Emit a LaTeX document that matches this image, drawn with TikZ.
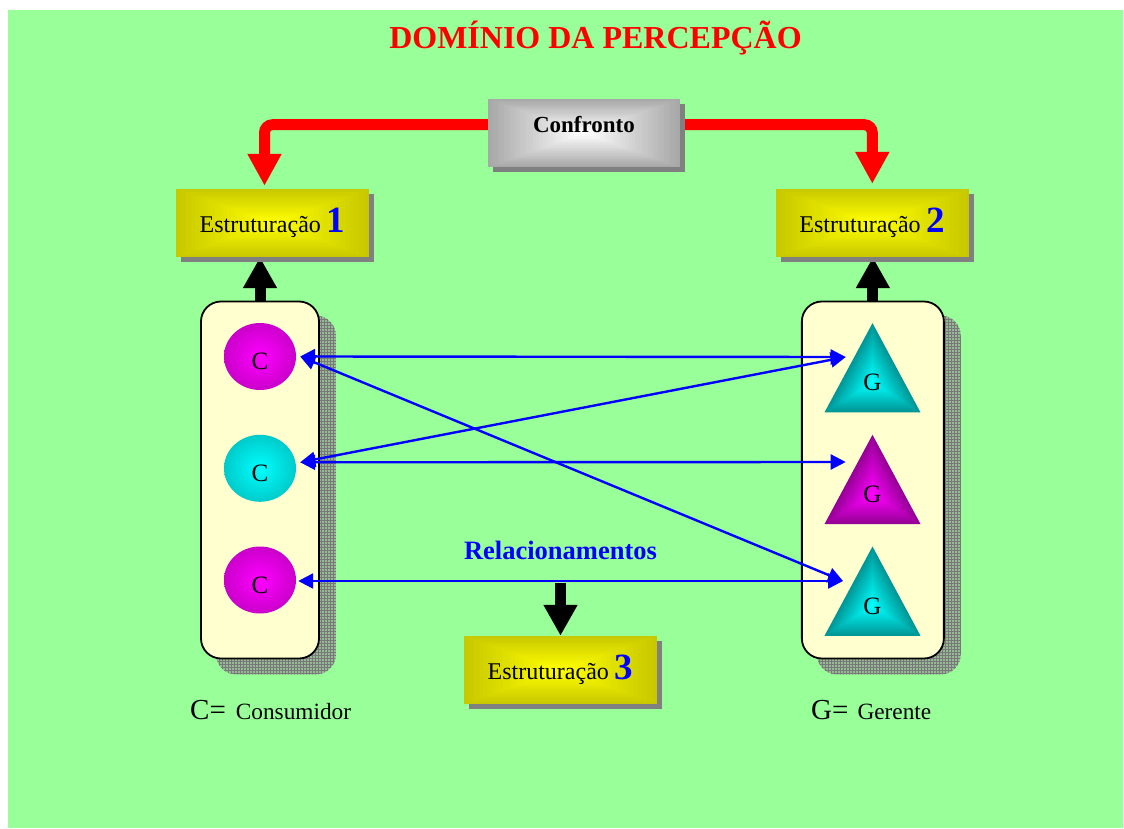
\documentclass[tikz,border=0pt]{standalone}
\usepackage{fontspec}
\setmainfont{Liberation Serif}
\usetikzlibrary{arrows.meta,shapes.geometric,patterns,calc}

% palette
\definecolor{bggreen}{RGB}{153,255,153}
\definecolor{panelfill}{RGB}{255,255,208}
\definecolor{boxshadow}{RGB}{128,128,128}
\definecolor{hatchbase}{RGB}{150,185,150}
\definecolor{hatchline}{RGB}{120,120,120}
\definecolor{magbright}{RGB}{255,0,255}
\definecolor{magdark}{RGB}{150,0,150}
\definecolor{cyanbright}{RGB}{0,255,255}
\definecolor{cyandark}{RGB}{0,150,150}
\definecolor{yelbright}{RGB}{255,255,0}
\definecolor{yeldark}{RGB}{200,200,0}
\definecolor{silverbright}{RGB}{255,255,255}
\definecolor{silverdark}{RGB}{168,168,168}
\definecolor{arrowred}{RGB}{255,0,0}
\definecolor{linkblue}{RGB}{0,0,255}

\pgfdeclareradialshading{magglow}{\pgfpoint{0bp}{0bp}}%
  {color(0bp)=(magbright); color(50bp)=(magdark); color(75bp)=(magdark)}
\pgfdeclareradialshading{cyanglow}{\pgfpoint{0bp}{0bp}}%
  {color(0bp)=(cyanbright); color(50bp)=(cyandark); color(75bp)=(cyandark)}

\pgfdeclarelayer{back}
\pgfdeclarelayer{shadows}
\pgfsetlayers{back,shadows,main}

% rectangular glow: nested rectangles from the edge colour to the centre colour
\newcommand\rectglow[2]{%
  \foreach \k in {0,...,29}{%
    \pgfmathsetmacro\glowt{\k/30}%
    \pgfmathtruncatemacro\glowm{100*\k/29}%
    \fill[#2!\glowm!#1]
      ($(path picture bounding box.south west)!\glowt!(path picture bounding box.center)$)
      rectangle
      ($(path picture bounding box.north east)!\glowt!(path picture bounding box.center)$);
  }}

% triangular glow: nested triangles shrinking towards the centroid
\newcommand\triglow[3]{%
  \begin{scope}[shift={#1}]
    \foreach \k in {0,...,29}{%
      \pgfmathsetmacro\glows{1-\k/30}%
      \pgfmathtruncatemacro\glowm{100*\k/29}%
      \fill[#3!\glowm!#2] (0,-59.5*\glows) -- (48*\glows,29.8*\glows) -- (-48*\glows,29.8*\glows) -- cycle;
    }
  \end{scope}}

\newcommand\estnum[1]{\textcolor{linkblue}{\fontsize{37}{37}\selectfont\bfseries #1}}

\begin{document}
\begin{tikzpicture}[x=1pt,y=-1pt,
  estbox/.style={rectangle, minimum width=193pt, minimum height=68pt, inner sep=0pt,
    fill=yeldark, path picture={\rectglow{yeldark}{yelbright}},
    font=\fontsize{24}{24}\selectfont},
  silverbox/.style={rectangle, minimum width=192pt, minimum height=68pt, inner sep=0pt,
    fill=silverdark, path picture={\rectglow{silverdark}{silverbright}}},
  panel/.style={rectangle, draw=black, line width=1.8pt, fill=panelfill,
    rounded corners=20pt, minimum height=357pt, inner sep=0pt},
  dot/.style={ellipse, minimum width=72pt, minimum height=67pt, inner sep=0pt, shade},
  letter/.style={inner sep=0pt, font=\fontsize{25}{25}\selectfont},
  legend/.style={anchor=base west, inner sep=0pt},
  link/.style={draw=linkblue, line width=2.4pt, <->, >={Triangle[length=15pt,width=15pt]}},
  feed/.style={draw=arrowred, line width=11pt, rounded corners=8pt,
    -{Triangle[length=32pt,width=32pt]}},
  rise/.style={draw=black, line width=11pt, -{Triangle[length=31pt,width=32pt]}}
]
\useasboundingbox (0,0) rectangle (1124,829);

% title
\node[anchor=base, text=arrowred, font=\fontsize{32}{32}\selectfont\bfseries]
  (title) at (595.5,49) {DOMÍNIO DA PERCEPÇÃO};

% boxes
\node[silverbox] (confronto) at (584,133) {};
\node[anchor=base, font=\fontsize{23}{23}\selectfont\bfseries] (confrontotxt) at (584,132.7) {Confronto};
\node[estbox] (est1) at (272.5,223) {Estruturação \estnum{1}};
\node[estbox] (est2) at (872.3,223) {Estruturação \estnum{2}};
\node[estbox] (est3) at (560.5,670) {Estruturação \estnum{3}};

% the two columns
\node[panel, minimum width=118pt] (pl) at (260,480) {};
\node[panel, minimum width=142pt] (pr) at (872.85,480) {};

% consumers
\node[dot, shading=magglow] (c1) at (260,356.5) {};
\node[dot, shading=cyanglow] (c2) at (260,468.3) {};
\node[dot, shading=magglow] (c3) at (260,580) {};
\node[letter] (c1t) at ([yshift=-5pt]c1.center) {C};
\node[letter] (c2t) at ([yshift=-5pt]c2.center) {C};
\node[letter] (c3t) at ([yshift=-5pt]c3.center) {C};

% managers
\triglow{(872.5,382.6)}{cyandark}{cyanbright}
\triglow{(872.5,494.3)}{magdark}{magbright}
\triglow{(872.5,606)}{cyandark}{cyanbright}
\node[letter] (g1) at (872.5,382.6) {G};
\node[letter] (g2) at (872.5,494.3) {G};
\node[letter] (g3) at (872.5,606) {G};

% labels
\node[anchor=base, text=linkblue, font=\fontsize{26.5}{26.5}\selectfont\bfseries]
  (rel) at (560.5,559) {Relacionamentos};
\node[legend] (legc) at (190,719)
  {\fontsize{29}{29}\selectfont C=\hspace{10pt}\fontsize{23.3}{23.3}\selectfont Consumidor};
\node[legend] (legg) at (811,719)
  {\fontsize{29}{29}\selectfont G=\hspace{9pt}\fontsize{23.3}{23.3}\selectfont Gerente};

% connector ends
\coordinate (e1in) at ([xshift=-8pt,yshift=3pt]est1.north);
\coordinate (e2in) at ([yshift=5pt]est2.north);
\coordinate (c1r) at ([xshift=4pt]c1.east);
\coordinate (c2r) at ([xshift=4pt,yshift=6pt]c2.east);
\coordinate (c3r) at ([xshift=2pt,yshift=-1pt]c3.east);
\coordinate (g1l) at ([xshift=-26.8pt,yshift=25.6pt]g1.center);
\coordinate (g2l) at ([xshift=-26.8pt,yshift=32.3pt]g2.center);
\coordinate (g3l) at ([xshift=-29.5pt,yshift=25pt]g3.center);

% page, background and heavy arrows
\begin{pgfonlayer}{back}
  \fill[white] (0,0) rectangle (1124,829);
  \fill[bggreen] (8,10) rectangle (1123,828);
  \draw[feed] (confronto.west |- confrontotxt) -| (e1in);
  \draw[feed] (confronto.east |- confrontotxt) -| (e2in);
  \draw[rise] (pl.north) -- (pl.north |- est1.south);
  \draw[rise] (pr.north) -- (pr.north |- est2.south);
  \draw[rise] ([yshift=53pt]est3.north) -- (est3.north);
\end{pgfonlayer}

% shadows
\begin{pgfonlayer}{shadows}
  \foreach \b in {confronto,est1,est2,est3}
    \fill[boxshadow] ([xshift=5pt,yshift=-5pt]\b.south west) rectangle ([xshift=5pt,yshift=-5pt]\b.north east);
  \foreach \p in {pl,pr}{
    \fill[hatchbase, rounded corners=20pt]
      ([xshift=16pt,yshift=-15pt]\p.south west) rectangle ([xshift=16pt,yshift=-15pt]\p.north east);
    \fill[pattern=grid, pattern color=hatchline, rounded corners=20pt]
      ([xshift=16pt,yshift=-15pt]\p.south west) rectangle ([xshift=16pt,yshift=-15pt]\p.north east);
  }
\end{pgfonlayer}

% relationships
\draw[link] (c1r) -- (g1l);
\draw[link] (c2r) -- (g1l);
\draw[link] (c2r) -- (g2l);
\draw[link] (c1r) -- (g3l);
\draw[link] (c3r) -- (g3l);
\end{tikzpicture}
\end{document}
